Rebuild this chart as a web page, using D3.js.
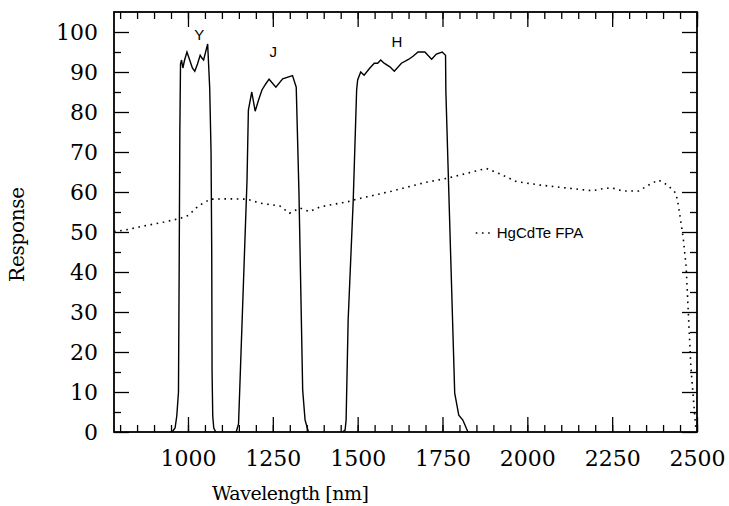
<!DOCTYPE html>
<html>
<head>
<meta charset="utf-8">
<script src="https://d3js.org/d3.v7.min.js"></script>
<style>
  body { margin: 0; background: #fff; }
  .axis text { font-family: "DejaVu Serif", serif; font-size: 22px; fill: #000; }
  .axis line { stroke: #000; stroke-width: 1.3px; }
  .line { fill: none; stroke: #000; stroke-width: 1.4px; }
  .dots { fill: none; stroke: #000; stroke-width: 1.6px; stroke-dasharray: 1.6, 4.6; }
  .lbl { font-family: "Liberation Sans", Arial, sans-serif; font-size: 15px; }
</style>
</head>
<body>
<div id="graph"></div>
<script>
// filter curves (wavelength nm, response)
var yWave = [953, 962, 967, 972, 974, 976, 978, 981, 985, 990, 997, 1005, 1013, 1020, 1028, 1036, 1041, 1046, 1052, 1058, 1064, 1068, 1070, 1071, 1073, 1076, 1082];
var yResp = [0, 1, 4, 10, 40, 75, 92, 93, 91, 93, 95, 93, 91, 90.2, 92, 94.2, 93.5, 93, 95, 97, 86, 70, 45, 15, 4, 1, 0];

var jWave = [1142, 1149, 1174, 1178, 1188, 1198, 1208, 1218, 1229, 1239, 1259, 1279, 1308, 1319, 1327, 1338, 1345, 1355];
var jResp = [0, 2, 63, 80.5, 85, 80.2, 83, 85.5, 87, 88.2, 86.2, 88.3, 89.1, 86.2, 60, 10.5, 3, 0];

var hWave = [1455, 1463, 1466, 1472, 1487, 1497, 1500, 1509, 1519, 1536, 1549, 1559, 1568, 1578, 1595, 1608, 1629, 1651, 1664, 1678, 1698, 1718, 1732, 1749, 1759, 1760, 1786, 1798, 1810, 1825];
var hResp = [0, 0.5, 3, 28, 58, 85.5, 88, 90, 89.2, 91, 92.2, 92.2, 93, 92.2, 91.3, 90.2, 92.2, 93.2, 94, 95, 95, 93.2, 94.5, 95, 94.2, 85, 9.7, 4.2, 3, 0];

// detector curve
var fpaWave = [782, 815, 870, 930, 977, 1002, 1030, 1066, 1120, 1174, 1213, 1271, 1299, 1330, 1358, 1390, 1472, 1497, 1600, 1700, 1762, 1879, 1920, 1968, 2036, 2095, 2193, 2213, 2247, 2281, 2328, 2358, 2386, 2413, 2438, 2445, 2453, 2460, 2468, 2475, 2482, 2492, 2497];
var fpaResp = [50.1, 50.5, 51.5, 52.5, 53.4, 54.2, 56.5, 58.2, 58.3, 58.2, 57.2, 56.5, 54.7, 56, 55.1, 56.3, 57.6, 58.2, 60.2, 62.4, 63.4, 65.9, 64.5, 62.6, 61.75, 61.2, 60.3, 60.7, 61.1, 60.25, 60.25, 61.75, 63, 61.75, 59.7, 56.75, 52.2, 48, 41.3, 28.8, 16.3, 5.5, 0.5];

// ticks
var xMajor = [1000, 1250, 1500, 1750, 2000, 2250, 2500];
var xMinor = d3.range(800, 2501, 50);
var yMajor = [0, 10, 20, 30, 40, 50, 60, 70, 80, 90, 100];
var yMinor = d3.range(5, 105, 10);

// band labels
var bandNames = ["Y", "J", "H"];
var bandWave = [1033, 1251, 1616];
var bandResp = [98, 93.75, 96.25];

var svgWidth = 729;
var svgHeight = 506;
var margin = { top: 12, right: 32, bottom: 74, left: 114 };
var chartWidth = svgWidth - margin.left - margin.right;
var chartHeight = svgHeight - margin.top - margin.bottom;

var svg = d3.select("#graph")
  .append("svg")
  .attr("width", svgWidth)
  .attr("height", svgHeight);

var chartGroup = svg.append("g")
  .attr("transform", `translate(${margin.left}, ${margin.top})`);

var xScale = d3.scaleLinear().domain([782, 2500]).range([0, chartWidth]);
var yScale = d3.scaleLinear().domain([0, 105]).range([chartHeight, 0]);

function addAxis(axis, tr) {
  var g = chartGroup.append("g").classed("axis", true).attr("transform", tr).call(axis);
  g.select(".domain").remove();
  return g;
}

// bottom + top
addAxis(d3.axisBottom(xScale).tickValues(xMajor).tickSize(-15).tickPadding(18).tickFormat(d3.format("d")), `translate(0, ${chartHeight})`);
addAxis(d3.axisBottom(xScale).tickValues(xMinor).tickSize(-7).tickFormat(""), `translate(0, ${chartHeight})`);
addAxis(d3.axisTop(xScale).tickValues(xMajor).tickSize(-15).tickFormat(""), "translate(0,0)");
addAxis(d3.axisTop(xScale).tickValues(xMinor).tickSize(-7).tickFormat(""), "translate(0,0)");

// left + right
addAxis(d3.axisLeft(yScale).tickValues(yMajor).tickSize(-15).tickPadding(16), "translate(0,0)");
addAxis(d3.axisLeft(yScale).tickValues(yMinor).tickSize(-7).tickFormat(""), "translate(0,0)");
addAxis(d3.axisRight(yScale).tickValues(yMajor).tickSize(-15).tickFormat(""), `translate(${chartWidth},0)`);
addAxis(d3.axisRight(yScale).tickValues(yMinor).tickSize(-7).tickFormat(""), `translate(${chartWidth},0)`);

// frame
chartGroup.append("rect")
  .attr("width", chartWidth)
  .attr("height", chartHeight)
  .attr("fill", "none")
  .attr("stroke", "#000")
  .attr("stroke-width", 1.8);

var drawLine = d3.line()
  .x(d => xScale(d[0]))
  .y(d => yScale(d[1]));

[[yWave, yResp], [jWave, jResp], [hWave, hResp]].forEach(function (s) {
  chartGroup.append("path")
    .attr("d", drawLine(d3.zip(s[0], s[1])))
    .classed("line", true);
});

chartGroup.append("path")
  .attr("d", drawLine(d3.zip(fpaWave, fpaResp)))
  .classed("dots", true);

// band letters
bandNames.forEach(function (n, i) {
  chartGroup.append("text")
    .classed("lbl", true)
    .attr("x", xScale(bandWave[i]))
    .attr("y", yScale(bandResp[i]))
    .attr("text-anchor", "middle")
    .text(n);
});

// legend
chartGroup.append("path")
  .attr("d", drawLine([[1848, 49.75], [1889, 49.75]]))
  .classed("dots", true);
chartGroup.append("text")
  .classed("lbl", true)
  .attr("x", xScale(1910))
  .attr("y", yScale(49.75) + 5)
  .text("HgCdTe FPA");

// axis titles
svg.append("text")
  .attr("x", margin.left + xScale(1302))
  .attr("y", 500)
  .attr("text-anchor", "middle")
  .attr("font-family", "DejaVu Serif, serif")
  .attr("font-size", 19)
  .attr("textLength", 157)
  .text("Wavelength [nm]");

svg.append("text")
  .attr("transform", `translate(24, ${margin.top + yScale(49.4)}) rotate(-90)`)
  .attr("text-anchor", "middle")
  .attr("font-family", "DejaVu Serif, serif")
  .attr("font-size", 20)
  .attr("textLength", 95)
  .text("Response");
</script>
</body>
</html>
